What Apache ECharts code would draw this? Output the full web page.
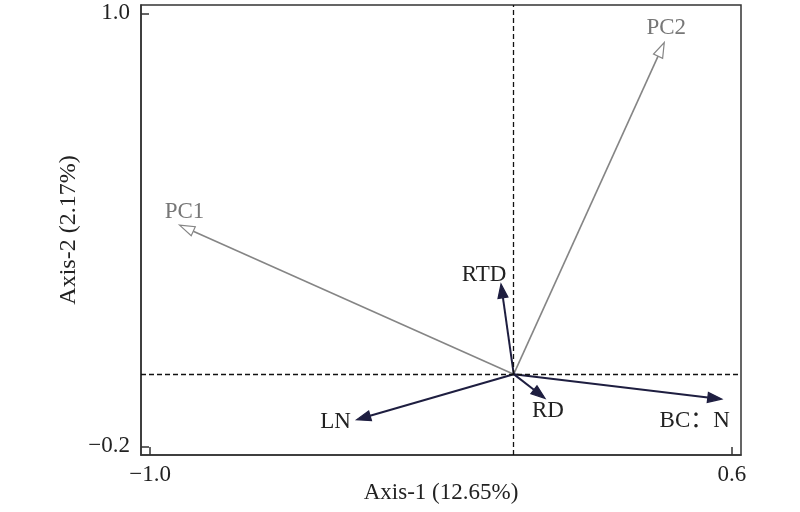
<!DOCTYPE html>
<html>
<head>
<meta charset="utf-8">
<title>RDA biplot</title>
<script src="https://cdn.jsdelivr.net/npm/echarts@6/dist/echarts.min.js"></script>
<style>
    html, body { margin: 0; padding: 0; background: #fff; }
    #main { width: 800px; height: 512px; }
</style>
</head>
<body>
<div id="main"></div>
<script>
'use strict'
// arrow tips (axis units)
var pcNames = ['PC1', 'PC2'];
var pcX = [-0.919, 0.414];
var pcY = [0.413, 0.919];

var envNames = ['RTD', 'RD', 'LN', 'BC：N'];
var envX = [-0.035, 0.086, -0.432, 0.572];
var envY = [0.250, -0.067, -0.126, -0.069];

var xTicks = [-1.0, 0.6];
var yTicks = [-0.2, 1.0];

// label nudges in pixels from the arrow tip
var labelShift = {
    'PC1': [5, -13],
    'PC2': [2, -15],
    'RTD': [-17, -9],
    'RD': [3, 13],
    'LN': [-21, 2],
    'BC：N': [-27, 22]
};

var fontFamily = '"Liberation Serif", "Times New Roman", "Noto Sans CJK SC", serif';
var navy = '#1e1e40';
var grey = '#858585';

function toPairs(xs, ys, names) {
    return xs.map(function (x, i) {
        return { name: names[i], value: [x, ys[i]] };
    });
}

function fmt(v) {
    var s = Math.abs(v).toFixed(1);
    return v < 0 ? '\u2212' + s : s;
}

function makeArrow(names, color, textColor, lineWidth, headLen, headWidth, hollow) {
    return function (params, api) {
        var o = api.coord([0, 0]);
        var p = api.coord([api.value(0), api.value(1)]);
        var dx = p[0] - o[0], dy = p[1] - o[1];
        var len = Math.sqrt(dx * dx + dy * dy);
        var ux = dx / len, uy = dy / len;
        var hw = headWidth / 2;
        var bx = p[0] - ux * headLen, by = p[1] - uy * headLen;
        var name = names[params.dataIndex];
        var shift = labelShift[name] || [0, 0];
        return {
            type: 'group',
            children: [
                {
                    type: 'line',
                    shape: { x1: o[0], y1: o[1], x2: bx, y2: by },
                    style: { stroke: color, lineWidth: lineWidth }
                },
                {
                    type: 'polygon',
                    shape: {
                        points: [
                            [p[0], p[1]],
                            [bx - uy * hw, by + ux * hw],
                            [bx + uy * hw, by - ux * hw]
                        ]
                    },
                    style: { fill: hollow ? '#fff' : color, stroke: color, lineWidth: 1.2 }
                },
                {
                    type: 'text',
                    x: p[0] + shift[0],
                    y: p[1] + shift[1],
                    style: {
                        text: name,
                        fill: textColor,
                        font: '23px ' + fontFamily,
                        align: 'center',
                        verticalAlign: 'middle'
                    }
                }
            ]
        };
    };
}

var option = {
    animation: false,
    backgroundColor: '#fff',
    grid: {
        left: 141,
        right: 59,
        top: 5,
        bottom: 57,
        outerBoundsMode: 'none',
        containLabel: false,
        show: true,
        borderColor: '#333',
        borderWidth: 1.5
    },
    xAxis: {
        type: 'value',
        min: -1.025,
        max: 0.625,
        name: 'Axis-1 (12.65%)',
        nameLocation: 'middle',
        nameGap: 26,
        nameMoveOverlap: false,
        nameTextStyle: { fontFamily: fontFamily, fontSize: 23, color: '#222' },
        axisLine: { show: true, onZero: false, lineStyle: { color: '#333', width: 1.5 } },
        axisTick: { show: true, inside: true, length: 8, customValues: xTicks, lineStyle: { color: '#333', width: 1.5 } },
        axisLabel: { customValues: xTicks, formatter: fmt, margin: 8, fontFamily: fontFamily, fontSize: 23, color: '#222' },
        splitLine: { show: false }
    },
    yAxis: {
        type: 'value',
        min: -0.224,
        max: 1.023,
        name: 'Axis-2 (2.17%)',
        nameLocation: 'middle',
        nameGap: 60,
        nameMoveOverlap: false,
        nameTextStyle: { fontFamily: fontFamily, fontSize: 24, color: '#222' },
        axisLine: { show: true, onZero: false, lineStyle: { color: '#333', width: 1.5 } },
        axisTick: { show: true, inside: true, length: 8, customValues: yTicks, lineStyle: { color: '#333', width: 1.5 } },
        axisLabel: { customValues: yTicks, formatter: fmt, margin: 11, fontFamily: fontFamily, fontSize: 23, color: '#222' },
        splitLine: { show: false }
    },
    series: [
        {
            // origin cross lines
            type: 'line',
            data: [],
            silent: true,
            markLine: {
                silent: true,
                symbol: 'none',
                label: { show: false },
                lineStyle: { color: '#111', type: [5, 3], width: 1.3 },
                data: [{ xAxis: 0 }, { yAxis: 0 }]
            }
        },
        {
            type: 'custom',
            renderItem: makeArrow(pcNames, grey, '#777', 1.6, 15, 10, true),
            encode: { x: 0, y: 1 },
            data: toPairs(pcX, pcY, pcNames),
            z: 3
        },
        {
            type: 'custom',
            renderItem: makeArrow(envNames, navy, '#222', 2, 14, 10, false),
            encode: { x: 0, y: 1 },
            data: toPairs(envX, envY, envNames),
            z: 4
        }
    ]
};

var myChart = echarts.init(document.getElementById('main'));
myChart.setOption(option);
</script>
</body>
</html>
